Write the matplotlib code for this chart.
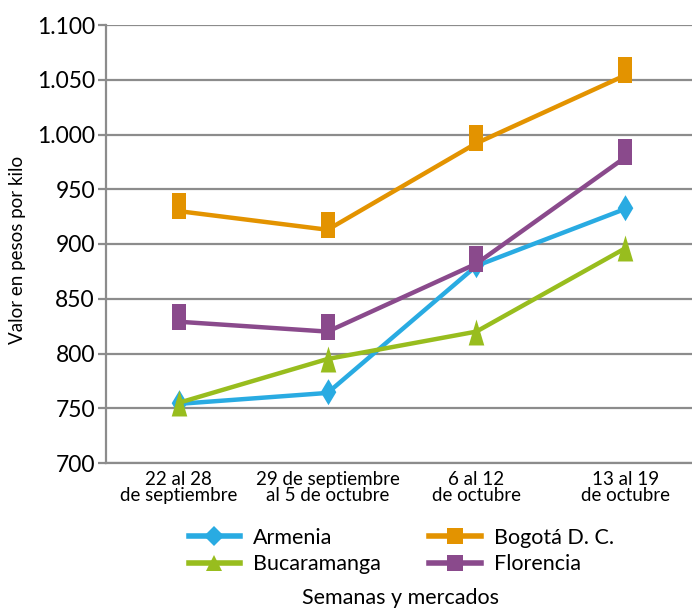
import matplotlib
matplotlib.use("Agg")
import matplotlib.pyplot as plt
from matplotlib.path import Path
from matplotlib.lines import Line2D

semanas = ["22 al 28\nde septiembre", "29 de septiembre\nal 5 de octubre",
           "6 al 12\nde octubre", "13 al 19\nde octubre"]
armenia = [754, 764, 880, 932]
bogota = [930, 913, 992, 1054]
bucaramanga = [755, 795, 820, 896]
florencia = [829, 820, 882, 979]
y_ticks = [700, 750, 800, 850, 900, 950, 1000, 1050, 1100]
y_labels = ["700", "750", "800", "850", "900", "950", "1.000", "1.050", "1.100"]

plt.rcParams['font.family'] = ['Lato', 'DejaVu Sans']

# marcadores un poco desplazados hacia arriba, como en el original
sq = Path([(-0.28, -0.3), (0.28, -0.3), (0.28, 0.7), (-0.28, 0.7), (-0.28, -0.3)],
          [1, 2, 2, 2, 79])
dia = Path([(0, 0.55), (0.3, 0.05), (0, -0.45), (-0.3, 0.05), (0, 0.55)],
           [1, 2, 2, 2, 79])
tri = Path([(0, 0.5), (0.3, -0.5), (-0.3, -0.5), (0, 0.5)], [1, 2, 2, 79])

series = [
    ("Armenia", armenia, "#29abe2", dia, 20.6, "D"),
    ("Bogotá D. C.", bogota, "#e39300", sq, 26.2, "s"),
    ("Bucaramanga", bucaramanga, "#98bd1e", tri, 18.7, "^"),
    ("Florencia", florencia, "#8a4a8c", sq, 26.2, "s"),
]

fig = plt.figure(figsize=(6.92, 6.09), dpi=100)
ax = fig.add_axes([106 / 692, 146 / 609, 586 / 692, 438 / 609])

x = list(range(len(semanas)))
handles = {}
for name, vals, color, mk, ms, lmk in series:
    ax.plot(x, vals, color=color, lw=3.2, marker=mk, markersize=ms,
            markeredgewidth=0, zorder=3, solid_joinstyle='round')
    handles[name] = Line2D([], [], color=color, lw=4, marker=lmk,
                           markersize=11 if lmk != "D" else 10, markeredgewidth=0)

ax.set_xlim(-0.49, 3.45)
ax.set_ylim(700, 1100)
ax.set_yticks(y_ticks)
ax.set_yticklabels(y_labels, fontsize=16.5)
ax.set_xticks(x)
ax.set_xticklabels(semanas, fontsize=13.5, linespacing=0.92)
ax.tick_params(axis='x', length=0, pad=6)
ax.tick_params(axis='y', length=6, width=1.6, color='#8c8c8c', pad=2)
ax.grid(axis='y', color='#8c8c8c', lw=1.6)
ax.set_axisbelow(True)
for s in ['top', 'right']:
    ax.spines[s].set_visible(False)
for s in ['left', 'bottom']:
    ax.spines[s].set_color('#8c8c8c')
    ax.spines[s].set_linewidth(1.6)

order = ["Armenia", "Bucaramanga", "Bogotá D. C.", "Florencia"]
fig.legend([handles[n] for n in order], order, ncol=2, frameon=False,
           loc='center', bbox_to_anchor=(0.58, 0.095), fontsize=15.5,
           handlelength=2.4, columnspacing=2.25, labelspacing=0.3,
           handletextpad=0.6)

fig.text(400 / 692, 1 - 598 / 609, "Semanas y mercados", ha='center', va='center',
         fontsize=15.5)
fig.text(18 / 692, 1 - 250 / 609, "Valor en pesos por kilo", ha='center',
         va='center', rotation=90, fontsize=13.5)

fig.savefig("out.png", dpi=100)
